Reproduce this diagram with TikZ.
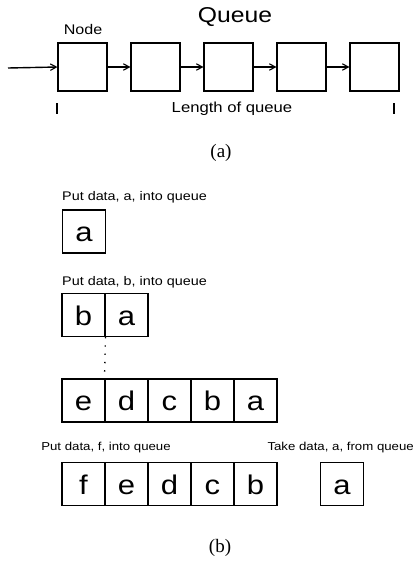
\documentclass[tikz,border=0pt]{standalone}
\usepackage{fontspec}
\setmainfont{Liberation Serif}
\setsansfont{Liberation Sans}
\newfontfamily\qsans[FakeStretch=1.15]{Liberation Sans}
\usetikzlibrary{arrows.meta, positioning}

\begin{document}
\begin{tikzpicture}[x=1pt, y=-1pt,
      qbox/.style={draw, line width=1.1pt, minimum width=49pt, minimum height=48pt,
                   inner sep=0pt},
      cell/.style={draw, line width=1.1pt, minimum width=43pt, minimum height=43pt,
                   inner sep=0pt, text height=20pt, text depth=0pt,
                   font=\qsans\fontsize{27}{27}\selectfont},
      link/.style={-{Straight Barb[length=6pt, width=6.5pt, line width=1.1pt]}, line width=1.1pt},
      lab/.style={font=\qsans\fontsize{12.5}{14}\selectfont, inner sep=0pt},
      figcap/.style={font=\fontsize{19}{21}\selectfont, inner sep=0pt}
    ]
    \useasboundingbox (0,0) rectangle (417,565);

    % (a) queue of nodes
    \node[font=\qsans\fontsize{21.5}{23}\selectfont, inner sep=0pt] (qtitle) at (235,17) {Queue};
    \node[font=\qsans\fontsize{14}{16}\selectfont, inner sep=0pt] (nodelab) at (83,29) {Node};
    \foreach \i in {1,...,5}
      \node[qbox] (q\i) at ({82.5+73*(\i-1)},67) {};
    \coordinate (qin) at (8,68);
    \draw[link, line width=1.4pt] (qin) -- (q1.west);
    \foreach \i/\j in {1/2, 2/3, 3/4, 4/5}
      \draw[link] (q\i.east) -- (q\j.west);
    \coordinate (tl1) at (57,103);  \coordinate (tl2) at (57,114);
    \coordinate (tr1) at (394,103); \coordinate (tr2) at (394,114);
    \draw[line width=1.3pt] (tl1) -- (tl2);
    \draw[line width=1.3pt] (tr1) -- (tr2);
    \node[font=\qsans\fontsize{14.5}{16}\selectfont, inner sep=0pt] (lenlab) at (232,109) {Length of queue};
    \node[figcap] (capa) at (221,153) {(a)};

    % (b) putting and taking data
    \node[lab, anchor=west] (puta) at (62,197) {Put data, a, into queue};
    \node[cell] (s1a) at (84,231.5) {a};

    \node[lab, anchor=west] (putb) at (62,282) {Put data, b, into queue};
    \node[cell] (s2b) at (83.5,315) {b};
    \node[cell] (s2a) at (126.5,315) {a};

    \foreach \t [count=\k] in {e,d,c,b,a}
      \node[cell] (s3\k) at ({83.5+43*(\k-1)},400.5) {\t};
    \draw[line width=1.3pt, dash pattern=on 1.3pt off 7pt] (s2b.south east) -- (s32.north west);

    \node[lab, font=\qsans\fontsize{11.5}{13}\selectfont] (putf) at (106,448) {Put data, f, into queue};
    \node[lab, font=\qsans\fontsize{11.5}{13}\selectfont, anchor=east] (takea) at (414,448) {Take data, a, from queue};
    \foreach \t [count=\k] in {f,e,d,c,b}
      \node[cell] (s4\k) at ({83.5+43*(\k-1)},484) {\t};
    \node[cell] (outa) at (342,484) {a};
    \node[figcap] (capb) at (220,548) {(b)};
  \end{tikzpicture}
\end{document}
